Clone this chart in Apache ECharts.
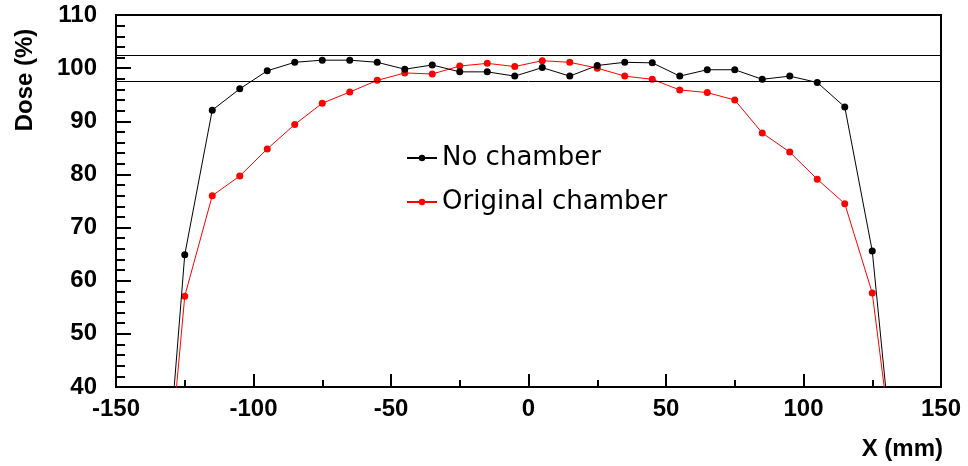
<!DOCTYPE html>
<html>
<head>
<meta charset="utf-8">
<script src="https://cdn.jsdelivr.net/npm/echarts@6/dist/echarts.min.js"></script>
<style>
  html, body { margin: 0; padding: 0; background: #fff; }
  #chart { width: 968px; height: 466px; }
</style>
</head>
<body>
<div id="chart"></div>
<script>
// positions (mm) of the measured points
var xPos = [-135, -125, -115, -105, -95, -85, -75, -65, -55, -45, -35, -25, -15, -5,
            5, 15, 25, 35, 45, 55, 65, 75, 85, 95, 105, 115, 125, 135];
// dose (%) without chamber
var noChamber = [0, 64.9, 92.1, 96.1, 99.5, 101.1, 101.5, 101.5, 101.1, 99.8, 100.6, 99.3, 99.3, 98.5,
                 100.1, 98.5, 100.5, 101.1, 101.0, 98.5, 99.7, 99.7, 97.9, 98.5, 97.3, 92.7, 65.6, 13];
// dose (%) with the original chamber
var origChamber = [0, 57.1, 76.0, 79.7, 84.8, 89.4, 93.4, 95.5, 97.7, 99.1, 98.9, 100.4, 100.9, 100.3,
                   101.4, 101.1, 100.0, 98.5, 97.9, 95.9, 95.4, 94.0, 87.8, 84.2, 79.1, 74.5, 57.7, 17];
// tolerance band
var bandLines = [97.5, 102.5];

function pairs(xs, ys) {
    var out = [];
    for (var i = 0; i < xs.length; i++) out.push([xs[i], ys[i]]);
    return out;
}

var chart = echarts.init(document.getElementById('chart'));

var tickFont = { color: '#000', fontFamily: 'Liberation Sans', fontWeight: 'bold', fontSize: 24 };

var option = {
    animation: false,
    grid: {
        left: 116, right: 27, top: 15, bottom: 79,
        show: true, borderColor: '#000', borderWidth: 2, backgroundColor: 'transparent'
    },
    legend: {
        orient: 'vertical',
        left: 406,
        top: 145,
        padding: 0,
        itemGap: 18,
        itemWidth: 30,
        itemHeight: 8,
        textStyle: { color: '#000', fontFamily: 'DejaVu Sans', fontSize: 26 },
        data: ['No chamber', 'Original chamber']
    },
    xAxis: {
        type: 'value',
        min: -150, max: 150, interval: 50,
        axisLine: { onZero: false, lineStyle: { color: '#000', width: 2 } },
        axisTick: { inside: true, length: 13, lineStyle: { color: '#000', width: 2 } },
        minorTick: { show: true, splitNumber: 2, length: 7, lineStyle: { color: '#000', width: 2 } },
        splitLine: { show: false },
        axisLabel: Object.assign({ margin: 10 }, tickFont),
        name: 'X (mm)',
        nameLocation: 'end',
        nameGap: 2,
        nameTextStyle: {
            color: '#000', fontFamily: 'Liberation Sans', fontWeight: 'bold', fontSize: 24,
            align: 'right', verticalAlign: 'top', padding: [50, 0, 0, 0]
        }
    },
    yAxis: {
        type: 'value',
        min: 40, max: 110, interval: 10,
        axisLine: { show: true, onZero: false, lineStyle: { color: '#000', width: 2 } },
        axisTick: { show: true, inside: true, length: 15, lineStyle: { color: '#000', width: 2 } },
        minorTick: { show: true, splitNumber: 5, length: 9, lineStyle: { color: '#000', width: 2 } },
        splitLine: { show: false },
        axisLabel: Object.assign({ margin: 19 }, tickFont)
    },
    graphic: [{
        type: 'text',
        x: 25, y: 80,
        rotation: Math.PI / 2,
        style: {
            text: 'Dose (%)',
            fill: '#000',
            font: 'bold 24px "Liberation Sans"',
            textAlign: 'center',
            textVerticalAlign: 'middle'
        }
    }],
    series: [
        {
            name: 'No chamber',
            type: 'line',
            data: pairs(xPos, noChamber),
            symbol: 'circle',
            symbolSize: 7,
            color: '#000',
            lineStyle: { color: '#000', width: 1 },
            markLine: {
                silent: true,
                symbol: 'none',
                label: { show: false },
                lineStyle: { color: '#000', width: 1, type: 'solid' },
                data: bandLines.map(function (v) { return { yAxis: v }; })
            },
            z: 3
        },
        {
            name: 'Original chamber',
            type: 'line',
            data: pairs(xPos, origChamber),
            symbol: 'circle',
            symbolSize: 7,
            color: '#ff0000',
            lineStyle: { color: '#ff0000', width: 1 },
            z: 2
        }
    ]
};

chart.setOption(option);
</script>
</body>
</html>
